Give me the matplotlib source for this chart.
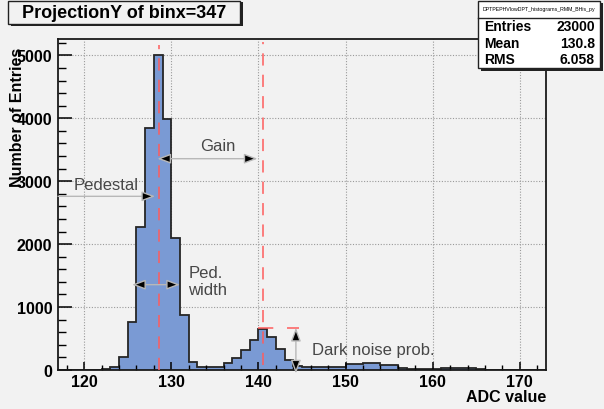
import numpy as np
import matplotlib.pyplot as plt
from matplotlib.patches import Rectangle

# histogram data (1 ADC count per bin, 117..173)
bin_edges = np.arange(117, 174, 1)
counts = [0, 0, 0, 0, 0,
          20, 40, 212, 755, 2280, 3850, 5010, 3985, 2095, 870,
          120, 50, 55, 55, 115, 190, 320, 475, 650, 525, 330, 165,
          58, 43, 40, 40, 40, 50, 90, 90, 105, 105, 72, 72, 38,
          8, 8, 8, 8, 35, 35, 25, 25, 8, 5, 5, 5, 5, 5, 5, 5]

x_ticks = [120, 130, 140, 150, 160, 170]
y_ticks = [0, 1000, 2000, 3000, 4000, 5000]

title = "ProjectionY of binx=347"
stats_name = "DPTPEPHVlowDPT_histograms_RMM_BHis_py"
stats_rows = [("Entries", "23000"), ("Mean", "130.8"), ("RMS", "6.058")]

# annotation values
pedestal = 128.55
first_pe = 140.5
dark_level = 665
dark_x = 144.3

bg = "#f2f2f2"
fill = "#7a9ad4"
red = "#ff5c5c"
note = "#474747"

plt.rcParams["font.family"] = ["Liberation Sans", "DejaVu Sans"]

W, H = 604, 410
fig = plt.figure(figsize=(W / 100, H / 100), dpi=100, facecolor=bg)
ax = fig.add_axes([58 / W, 1 - 371 / H, 488 / W, 331 / H], facecolor=bg)

# grid under the bars
for xt in x_ticks:
    ax.axvline(xt, color="#9a9a9a", lw=0.8, ls=(0, (1, 1.5)), zorder=0.5)
for yt in y_ticks[1:]:
    ax.axhline(yt, color="#9a9a9a", lw=0.8, ls=(0, (1, 1.5)), zorder=0.5)

ax.stairs(counts, bin_edges, fill=True, color=fill, zorder=1)
ax.stairs(counts, bin_edges, color="#262626", lw=1.3, zorder=1.2)

ax.set_xlim(117, 173)
ax.set_ylim(0, 5260)
ax.set_xticks(x_ticks)
ax.set_xticks(np.arange(118, 173, 2), minor=True)
ax.set_yticks(y_ticks)
ax.set_yticks(np.arange(0, 5260, 200), minor=True)
ax.tick_params(axis="x", which="major", direction="in", length=6, width=1.1, pad=3)
ax.tick_params(axis="x", which="minor", direction="in", length=3.5, width=1.0)
ax.tick_params(axis="y", which="major", direction="in", length=10, width=1.1, pad=4)
ax.tick_params(axis="y", which="minor", direction="in", length=5.5, width=1.0)
for lab in ax.get_xticklabels() + ax.get_yticklabels():
    lab.set_fontweight("bold")
    lab.set_fontsize(11.5)
for s in ax.spines.values():
    s.set_linewidth(1.3)
    s.set_color("#1a1a1a")

# red marker lines
ax.plot([pedestal, pedestal], [0, 5170], color=red, lw=1.1, dashes=(8, 6), zorder=3)
ax.plot([first_pe, first_pe], [80, 5215], color=red, lw=1.1, dashes=(8, 6), zorder=3)
ax.plot([first_pe - 0.5, dark_x + 0.3], [dark_level, dark_level], color=red, lw=1.1,
        dashes=(10, 9), zorder=3)

arrow = dict(fc="black", ec="#b8b8b8", lw=1.0, shrinkA=0, shrinkB=0)

# pedestal
ax.annotate("", xy=(128.15, 2760), xytext=(117, 2760),
            arrowprops=dict(arrowstyle="-|>,head_length=0.8,head_width=0.3", **arrow), zorder=4)
ax.text(122.5, 2950, "Pedestal", color=note, fontsize=12, ha="center", va="center", zorder=4)

# gain
ax.annotate("", xy=(139.9, 3358), xytext=(128.4, 3358),
            arrowprops=dict(arrowstyle="<|-|>,head_length=0.8,head_width=0.3", **arrow), zorder=4)
ax.text(135.3, 3570, "Gain", color=note, fontsize=12, ha="center", va="center", zorder=4)

# pedestal width
ax.annotate("", xy=(131.0, 1356), xytext=(125.5, 1356),
            arrowprops=dict(arrowstyle="<|-|>,head_length=0.8,head_width=0.3", **arrow), zorder=4)
ax.text(131.95, 1410, "Ped.\nwidth", color=note, fontsize=12, ha="left", va="center",
        linespacing=1.15, zorder=4)

# dark noise
ax.annotate("", xy=(dark_x, -55), xytext=(dark_x, 670), annotation_clip=False,
            arrowprops=dict(arrowstyle="<|-|>,head_length=0.8,head_width=0.3",
                            clip_on=False, **arrow), zorder=4)
ax.text(146.1, 327, "Dark noise prob.", color=note, fontsize=12, ha="left", va="center", zorder=4)

# axis titles
fig.text(546 / W, 1 - 398 / H, "ADC value", fontsize=11.5, fontweight="bold",
         ha="right", va="center")
fig.text(18 / W, 1 - 48 / H, "Number of Entries", fontsize=11.5, fontweight="bold",
         rotation=90, ha="center", va="top")

# title box with shadow
fig.patches.append(Rectangle((11 / W, 1 - 27 / H), 232 / W, 24 / H, transform=fig.transFigure,
                             fc="#222222", ec="none", zorder=1))
fig.patches.append(Rectangle((8 / W, 1 - 25 / H), 232 / W, 23 / H, transform=fig.transFigure,
                             fc=bg, ec="#222222", lw=1.0, zorder=2))
fig.text(124 / W, 1 - 14 / H, title, fontsize=13, fontweight="bold", ha="center", va="center",
         zorder=3)

# stats box with shadow
fig.patches.append(Rectangle((481 / W, 1 - 72 / H), 122 / W, 68 / H, transform=fig.transFigure,
                             fc="#222222", ec="none", zorder=1))
fig.patches.append(Rectangle((478 / W, 1 - 69 / H), 122 / W, 67 / H, transform=fig.transFigure,
                             fc="white", ec="#222222", lw=1.0, zorder=2))
fig.lines.append(plt.Line2D([478 / W, 600 / W], [1 - 19 / H, 1 - 19 / H],
                            transform=fig.transFigure, color="#222222", lw=1.0, zorder=3))
fig.text(539 / W, 1 - 10 / H, stats_name, fontsize=3.8, ha="center", va="center", zorder=3)
for i, (name, val) in enumerate(stats_rows):
    yy = 1 - (27 + 16.5 * i) / H
    fig.text(484 / W, yy, name, fontsize=10, fontweight="bold", ha="left", va="center", zorder=3)
    fig.text(595 / W, yy, val, fontsize=10, fontweight="bold", ha="right", va="center", zorder=3)

fig.savefig("out.png", dpi=100, facecolor=bg)
